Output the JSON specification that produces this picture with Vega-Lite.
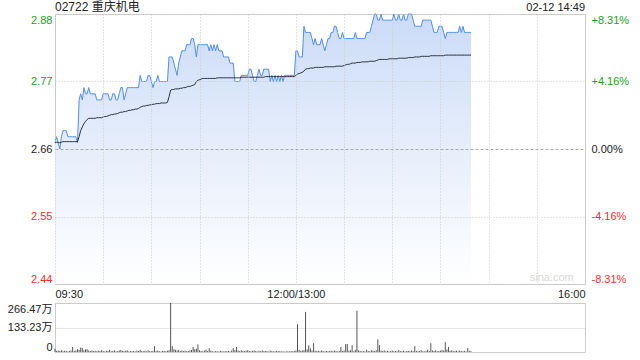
{
"$schema":"https://vega.github.io/schema/vega-lite/v6.json",
"padding":{"left":6,"top":0,"right":5,"bottom":4},
"bounds":"flush",
"spacing":19,
"background":"white",
"config":{"font":"Liberation Sans, Noto Sans CJK SC, sans-serif","view":{"stroke":"#cccccc"},"axis":{"labelFontSize":11,"labelColor":"#222222","title":null}},
"data":{"values":[
{"t":0,"p":2.67,"a":2.670,"v":18},{"t":1,"p":2.68,"a":2.671,"v":6},{"t":2,"p":2.67,"a":2.671,"v":8},{"t":3,"p":2.66,"a":2.670,"v":5},{"t":4,"p":2.68,"a":2.671,"v":9},
{"t":5,"p":2.69,"a":2.672,"v":4},{"t":6,"p":2.69,"a":2.672,"v":7},{"t":7,"p":2.69,"a":2.672,"v":6},{"t":8,"p":2.68,"a":2.672,"v":3},{"t":9,"p":2.68,"a":2.672,"v":5},
{"t":10,"p":2.68,"a":2.672,"v":8},{"t":11,"p":2.68,"a":2.672,"v":27},{"t":12,"p":2.68,"a":2.672,"v":6},{"t":13,"p":2.68,"a":2.672,"v":9},{"t":14,"p":2.67,"a":2.672,"v":15},
{"t":15,"p":2.74,"a":2.680,"v":12},{"t":16,"p":2.75,"a":2.690,"v":24},{"t":17,"p":2.74,"a":2.696,"v":22},{"t":18,"p":2.76,"a":2.701,"v":10},{"t":19,"p":2.75,"a":2.705,"v":14},
{"t":20,"p":2.75,"a":2.708,"v":15},{"t":21,"p":2.76,"a":2.710,"v":8},{"t":22,"p":2.75,"a":2.710,"v":6},{"t":23,"p":2.75,"a":2.710,"v":9},{"t":24,"p":2.75,"a":2.710,"v":5},
{"t":25,"p":2.75,"a":2.710,"v":7},{"t":26,"p":2.74,"a":2.711,"v":4},{"t":27,"p":2.74,"a":2.711,"v":8},{"t":28,"p":2.74,"a":2.711,"v":5},{"t":29,"p":2.74,"a":2.711,"v":10},
{"t":30,"p":2.75,"a":2.712,"v":6},{"t":31,"p":2.75,"a":2.713,"v":3},{"t":32,"p":2.75,"a":2.713,"v":7},{"t":33,"p":2.75,"a":2.714,"v":5},{"t":34,"p":2.74,"a":2.715,"v":12},
{"t":35,"p":2.74,"a":2.716,"v":4},{"t":36,"p":2.75,"a":2.716,"v":6},{"t":37,"p":2.75,"a":2.717,"v":9},{"t":38,"p":2.74,"a":2.717,"v":3},{"t":39,"p":2.74,"a":2.718,"v":5},
{"t":40,"p":2.75,"a":2.719,"v":8},{"t":41,"p":2.76,"a":2.720,"v":11},{"t":42,"p":2.76,"a":2.720,"v":6},{"t":43,"p":2.74,"a":2.721,"v":4},{"t":44,"p":2.75,"a":2.721,"v":7},
{"t":45,"p":2.76,"a":2.722,"v":9},{"t":46,"p":2.76,"a":2.723,"v":3},{"t":47,"p":2.76,"a":2.723,"v":5},{"t":48,"p":2.76,"a":2.724,"v":4},{"t":49,"p":2.76,"a":2.724,"v":6},
{"t":50,"p":2.76,"a":2.725,"v":3},{"t":51,"p":2.76,"a":2.725,"v":8},{"t":52,"p":2.76,"a":2.726,"v":5},{"t":53,"p":2.78,"a":2.728,"v":12},{"t":54,"p":2.77,"a":2.729,"v":6},
{"t":55,"p":2.77,"a":2.730,"v":4},{"t":56,"p":2.77,"a":2.730,"v":7},{"t":57,"p":2.77,"a":2.731,"v":3},{"t":58,"p":2.78,"a":2.731,"v":9},{"t":59,"p":2.78,"a":2.732,"v":5},
{"t":60,"p":2.77,"a":2.732,"v":4},{"t":61,"p":2.76,"a":2.733,"v":6},{"t":62,"p":2.77,"a":2.733,"v":32},{"t":63,"p":2.77,"a":2.734,"v":5},{"t":64,"p":2.78,"a":2.734,"v":8},
{"t":65,"p":2.77,"a":2.734,"v":4},{"t":66,"p":2.77,"a":2.735,"v":3},{"t":67,"p":2.77,"a":2.735,"v":6},{"t":68,"p":2.77,"a":2.735,"v":5},{"t":69,"p":2.77,"a":2.735,"v":4},
{"t":70,"p":2.77,"a":2.736,"v":7},{"t":71,"p":2.81,"a":2.745,"v":10},{"t":72,"p":2.81,"a":2.756,"v":266.47},{"t":73,"p":2.81,"a":2.757,"v":32},{"t":74,"p":2.80,"a":2.757,"v":15},
{"t":75,"p":2.79,"a":2.758,"v":12},{"t":76,"p":2.78,"a":2.758,"v":8},{"t":77,"p":2.80,"a":2.758,"v":10},{"t":78,"p":2.81,"a":2.759,"v":6},{"t":79,"p":2.82,"a":2.759,"v":9},
{"t":80,"p":2.82,"a":2.760,"v":5},{"t":81,"p":2.82,"a":2.760,"v":7},{"t":82,"p":2.83,"a":2.761,"v":4},{"t":83,"p":2.83,"a":2.762,"v":6},{"t":84,"p":2.83,"a":2.762,"v":8},
{"t":85,"p":2.84,"a":2.763,"v":11},{"t":86,"p":2.84,"a":2.764,"v":27},{"t":87,"p":2.83,"a":2.765,"v":15},{"t":88,"p":2.81,"a":2.770,"v":18},{"t":89,"p":2.83,"a":2.772,"v":41},
{"t":90,"p":2.83,"a":2.773,"v":9},{"t":91,"p":2.83,"a":2.774,"v":6},{"t":92,"p":2.83,"a":2.775,"v":4},{"t":93,"p":2.83,"a":2.775,"v":8},{"t":94,"p":2.83,"a":2.775,"v":12},
{"t":95,"p":2.83,"a":2.775,"v":5},{"t":96,"p":2.82,"a":2.775,"v":21},{"t":97,"p":2.83,"a":2.775,"v":7},{"t":98,"p":2.82,"a":2.775,"v":4},{"t":99,"p":2.83,"a":2.775,"v":3},
{"t":100,"p":2.82,"a":2.775,"v":5},{"t":101,"p":2.83,"a":2.776,"v":4},{"t":102,"p":2.82,"a":2.776,"v":3},{"t":103,"p":2.82,"a":2.776,"v":6},{"t":104,"p":2.82,"a":2.776,"v":4},
{"t":105,"p":2.81,"a":2.776,"v":3},{"t":106,"p":2.81,"a":2.776,"v":5},{"t":107,"p":2.81,"a":2.776,"v":4},{"t":108,"p":2.81,"a":2.776,"v":6},{"t":109,"p":2.80,"a":2.776,"v":3},
{"t":110,"p":2.80,"a":2.776,"v":8},{"t":111,"p":2.80,"a":2.776,"v":21},{"t":112,"p":2.77,"a":2.776,"v":10},{"t":113,"p":2.77,"a":2.776,"v":27},{"t":114,"p":2.77,"a":2.776,"v":8},
{"t":115,"p":2.77,"a":2.776,"v":5},{"t":116,"p":2.78,"a":2.777,"v":9},{"t":117,"p":2.78,"a":2.777,"v":6},{"t":118,"p":2.78,"a":2.777,"v":4},{"t":119,"p":2.78,"a":2.777,"v":7},
{"t":120,"p":2.78,"a":2.777,"v":10},{"t":121,"p":2.79,"a":2.777,"v":5},{"t":122,"p":2.79,"a":2.777,"v":4},{"t":123,"p":2.78,"a":2.777,"v":6},{"t":124,"p":2.77,"a":2.777,"v":8},
{"t":125,"p":2.77,"a":2.777,"v":5},{"t":126,"p":2.78,"a":2.777,"v":3},{"t":127,"p":2.79,"a":2.777,"v":7},{"t":128,"p":2.78,"a":2.777,"v":4},{"t":129,"p":2.78,"a":2.777,"v":9},
{"t":130,"p":2.79,"a":2.777,"v":5},{"t":131,"p":2.79,"a":2.778,"v":6},{"t":132,"p":2.79,"a":2.778,"v":4},{"t":133,"p":2.79,"a":2.778,"v":3},{"t":134,"p":2.77,"a":2.778,"v":8},
{"t":135,"p":2.78,"a":2.778,"v":5},{"t":136,"p":2.77,"a":2.778,"v":4},{"t":137,"p":2.78,"a":2.778,"v":3},{"t":138,"p":2.77,"a":2.778,"v":6},{"t":139,"p":2.78,"a":2.778,"v":4},
{"t":140,"p":2.77,"a":2.778,"v":5},{"t":141,"p":2.78,"a":2.778,"v":3},{"t":142,"p":2.77,"a":2.778,"v":4},{"t":143,"p":2.78,"a":2.778,"v":2},{"t":144,"p":2.78,"a":2.778,"v":3},
{"t":145,"p":2.78,"a":2.778,"v":4},{"t":146,"p":2.78,"a":2.778,"v":3},{"t":147,"p":2.78,"a":2.778,"v":5},{"t":148,"p":2.78,"a":2.778,"v":4},{"t":149,"p":2.78,"a":2.778,"v":6},
{"t":150,"p":2.82,"a":2.780,"v":8},{"t":151,"p":2.82,"a":2.782,"v":151},{"t":152,"p":2.81,"a":2.783,"v":12},{"t":153,"p":2.81,"a":2.784,"v":6},{"t":154,"p":2.81,"a":2.785,"v":9},
{"t":155,"p":2.86,"a":2.787,"v":10},{"t":156,"p":2.85,"a":2.790,"v":218},{"t":157,"p":2.85,"a":2.791,"v":14},{"t":158,"p":2.85,"a":2.791,"v":36},{"t":159,"p":2.85,"a":2.792,"v":20},
{"t":160,"p":2.84,"a":2.792,"v":8},{"t":161,"p":2.83,"a":2.792,"v":48},{"t":162,"p":2.84,"a":2.793,"v":7},{"t":163,"p":2.83,"a":2.793,"v":5},{"t":164,"p":2.83,"a":2.793,"v":6},
{"t":165,"p":2.83,"a":2.793,"v":4},{"t":166,"p":2.84,"a":2.793,"v":9},{"t":167,"p":2.83,"a":2.793,"v":5},{"t":168,"p":2.82,"a":2.794,"v":3},{"t":169,"p":2.83,"a":2.794,"v":6},
{"t":170,"p":2.84,"a":2.794,"v":4},{"t":171,"p":2.84,"a":2.794,"v":5},{"t":172,"p":2.85,"a":2.794,"v":7},{"t":173,"p":2.85,"a":2.794,"v":4},{"t":174,"p":2.86,"a":2.794,"v":8},
{"t":175,"p":2.86,"a":2.795,"v":5},{"t":176,"p":2.85,"a":2.795,"v":3},{"t":177,"p":2.84,"a":2.795,"v":6},{"t":178,"p":2.84,"a":2.795,"v":27},{"t":179,"p":2.85,"a":2.795,"v":5},
{"t":180,"p":2.84,"a":2.796,"v":8},{"t":181,"p":2.84,"a":2.797,"v":43},{"t":182,"p":2.84,"a":2.798,"v":43},{"t":183,"p":2.84,"a":2.798,"v":7},{"t":184,"p":2.84,"a":2.799,"v":9},
{"t":185,"p":2.84,"a":2.800,"v":37},{"t":186,"p":2.84,"a":2.800,"v":4},{"t":187,"p":2.85,"a":2.800,"v":12},{"t":188,"p":2.84,"a":2.801,"v":225},{"t":189,"p":2.84,"a":2.801,"v":8},
{"t":190,"p":2.84,"a":2.801,"v":6},{"t":191,"p":2.84,"a":2.802,"v":4},{"t":192,"p":2.84,"a":2.802,"v":5},{"t":193,"p":2.84,"a":2.802,"v":3},{"t":194,"p":2.85,"a":2.802,"v":12},
{"t":195,"p":2.85,"a":2.802,"v":6},{"t":196,"p":2.85,"a":2.803,"v":4},{"t":197,"p":2.86,"a":2.803,"v":9},{"t":198,"p":2.87,"a":2.803,"v":7},{"t":199,"p":2.88,"a":2.803,"v":5},
{"t":200,"p":2.88,"a":2.804,"v":10},{"t":201,"p":2.87,"a":2.805,"v":69},{"t":202,"p":2.87,"a":2.806,"v":37},{"t":203,"p":2.88,"a":2.806,"v":8},{"t":204,"p":2.87,"a":2.806,"v":5},
{"t":205,"p":2.87,"a":2.806,"v":9},{"t":206,"p":2.87,"a":2.806,"v":4},{"t":207,"p":2.87,"a":2.806,"v":6},{"t":208,"p":2.87,"a":2.807,"v":3},{"t":209,"p":2.87,"a":2.807,"v":5},
{"t":210,"p":2.87,"a":2.807,"v":8},{"t":211,"p":2.88,"a":2.807,"v":4},{"t":212,"p":2.87,"a":2.807,"v":6},{"t":213,"p":2.87,"a":2.807,"v":3},{"t":214,"p":2.88,"a":2.808,"v":10},
{"t":215,"p":2.87,"a":2.808,"v":5},{"t":216,"p":2.87,"a":2.808,"v":4},{"t":217,"p":2.88,"a":2.808,"v":7},{"t":218,"p":2.87,"a":2.808,"v":3},{"t":219,"p":2.87,"a":2.808,"v":5},
{"t":220,"p":2.88,"a":2.809,"v":6},{"t":221,"p":2.88,"a":2.809,"v":4},{"t":222,"p":2.88,"a":2.809,"v":8},{"t":223,"p":2.87,"a":2.809,"v":5},{"t":224,"p":2.86,"a":2.810,"v":32},
{"t":225,"p":2.86,"a":2.810,"v":6},{"t":226,"p":2.86,"a":2.810,"v":4},{"t":227,"p":2.86,"a":2.810,"v":5},{"t":228,"p":2.86,"a":2.811,"v":10},{"t":229,"p":2.87,"a":2.811,"v":4},
{"t":230,"p":2.87,"a":2.811,"v":3},{"t":231,"p":2.87,"a":2.811,"v":6},{"t":232,"p":2.87,"a":2.811,"v":12},{"t":233,"p":2.87,"a":2.811,"v":5},{"t":234,"p":2.87,"a":2.812,"v":48},
{"t":235,"p":2.86,"a":2.812,"v":8},{"t":236,"p":2.85,"a":2.812,"v":6},{"t":237,"p":2.85,"a":2.812,"v":9},{"t":238,"p":2.85,"a":2.812,"v":4},{"t":239,"p":2.86,"a":2.812,"v":5},
{"t":240,"p":2.86,"a":2.812,"v":7},{"t":241,"p":2.86,"a":2.812,"v":10},{"t":242,"p":2.85,"a":2.812,"v":8},{"t":243,"p":2.84,"a":2.813,"v":53},{"t":244,"p":2.85,"a":2.813,"v":14},
{"t":245,"p":2.85,"a":2.813,"v":27},{"t":246,"p":2.85,"a":2.813,"v":6},{"t":247,"p":2.85,"a":2.813,"v":9},{"t":248,"p":2.85,"a":2.813,"v":4},{"t":249,"p":2.85,"a":2.813,"v":5},
{"t":250,"p":2.85,"a":2.813,"v":7},{"t":251,"p":2.85,"a":2.813,"v":3},{"t":252,"p":2.86,"a":2.813,"v":8},{"t":253,"p":2.85,"a":2.813,"v":5},{"t":254,"p":2.86,"a":2.813,"v":4},
{"t":255,"p":2.85,"a":2.813,"v":6},{"t":256,"p":2.85,"a":2.813,"v":3},{"t":257,"p":2.85,"a":2.813,"v":21},{"t":258,"p":2.85,"a":2.813,"v":6},{"t":259,"p":2.85,"a":2.813,"v":4}
]},
"vconcat":[
{
"width":530,"height":270,
"layer":[
{"mark":{"type":"area","color":{"x1":0,"y1":0,"x2":0,"y2":1,"gradient":"linear","stops":[{"offset":0,"color":"#cbdbf7"},{"offset":0.5,"color":"#e6eefb"},{"offset":1,"color":"#ffffff"}]}},
"encoding":{
"x":{"field":"t","type":"quantitative","scale":{"domain":[0,330],"nice":false,"zero":false},
"axis":{"zindex":1,"values":[0,30,60,90,120,150,180,210,240,270,300,330],"labelExpr":"datum.value==0?'09:30':datum.value==150?'12:00/13:00':datum.value==330?'16:00':''","labelFlush":true,"labelOverlap":false,"ticks":false,"domain":false,"grid":true,"gridColor":"#c8c8c8","gridDash":[1,2],"labelPadding":4,"labelColor":"#222222"}},
"y":{"field":"p","type":"quantitative","scale":{"domain":[2.44,2.88],"nice":false,"zero":false},
"axis":{"zindex":1,"values":[2.44,2.55,2.66,2.77,2.88],"format":".2f","labelFlush":true,"ticks":false,"domain":false,"grid":true,
"gridColor":{"condition":{"test":"datum.value==2.66","value":"#aaaaaa"},"value":"#c8c8c8"},
"gridDash":{"condition":{"test":"datum.value==2.66","value":[3,2]},"value":[1,2]},
"labelColor":{"condition":[{"test":"datum.value>2.665","value":"#1e9e1e"},{"test":"datum.value<2.655","value":"#f03030"}],"value":"#222222"},
"labelPadding":3}},
"y2":{"datum":2.44}}},
{"mark":{"type":"line","color":"#4f8ef0","strokeWidth":1},
"encoding":{"x":{"field":"t","type":"quantitative","scale":{"domain":[0,330],"nice":false,"zero":false}},
"y":{"field":"p","type":"quantitative","scale":{"domain":[2.44,2.88],"nice":false,"zero":false},"axis":null}}},
{"mark":{"type":"line","color":"#2b3343","strokeWidth":1},
"encoding":{"x":{"field":"t","type":"quantitative","scale":{"domain":[0,330],"nice":false,"zero":false}},
"y":{"field":"a","type":"quantitative","scale":{"domain":[2.44,2.88],"nice":false,"zero":false},
"axis":{"orient":"right","values":[2.44,2.55,2.66,2.77,2.88],"labelExpr":"['-8.31%','-4.16%','0.00%','+4.16%','+8.31%'][round((datum.value-2.44)/0.11)]","labelFlush":true,"ticks":false,"domain":false,"grid":false,
"labelColor":{"condition":[{"test":"datum.value>2.665","value":"#1e9e1e"},{"test":"datum.value<2.655","value":"#f03030"}],"value":"#222222"},
"labelPadding":6}}}},
{"data":{"values":[{"s":"02-12 14:49"}]},
"mark":{"type":"text","align":"right","baseline":"bottom","dy":-1,"fontSize":11,"color":"#222222"},
"encoding":{"x":{"datum":330,"type":"quantitative","scale":{"domain":[0,330],"nice":false,"zero":false}},
"y":{"datum":2.88,"type":"quantitative","scale":{"domain":[2.44,2.88],"nice":false,"zero":false},"axis":null},
"text":{"field":"s"}}},
{"data":{"values":[{"s":"02722 重庆机电"}]},
"mark":{"type":"text","align":"left","baseline":"bottom","dy":0,"fontSize":12,"color":"#222222"},
"encoding":{"x":{"datum":0,"type":"quantitative","scale":{"domain":[0,330],"nice":false,"zero":false}},
"y":{"datum":2.88,"type":"quantitative","scale":{"domain":[2.44,2.88],"nice":false,"zero":false},"axis":null},
"text":{"field":"s"}}},
{"data":{"values":[{"s":"sina.com"}]},
"mark":{"type":"text","align":"right","baseline":"bottom","fontSize":11,"color":"#d9d9d9"},
"encoding":{"x":{"datum":323,"type":"quantitative","scale":{"domain":[0,330],"nice":false,"zero":false}},
"y":{"datum":2.442,"type":"quantitative","scale":{"domain":[2.44,2.88],"nice":false,"zero":false},"axis":null},
"text":{"field":"s"}}}
],
"resolve":{"axis":{"y":"independent"}}
},
{
"width":530,"height":49,
"mark":{"type":"rule","color":"#555555","strokeWidth":1},
"encoding":{
"x":{"field":"t","type":"quantitative","scale":{"domain":[0,330],"nice":false,"zero":false},"axis":null},
"y":{"field":"v","type":"quantitative","scale":{"domain":[0,266.47],"nice":false,"zero":false},
"axis":{"values":[0,133.23,266.47],"labelExpr":"datum.value==0?'0':format(datum.value,'.2f')+'万'","labelFlush":true,"ticks":false,"domain":false,"grid":true,"gridColor":"#cccccc","gridDash":[1,1],"labelPadding":3,"labelColor":"#222222"}},
"y2":{"datum":0}}
}
]
}
